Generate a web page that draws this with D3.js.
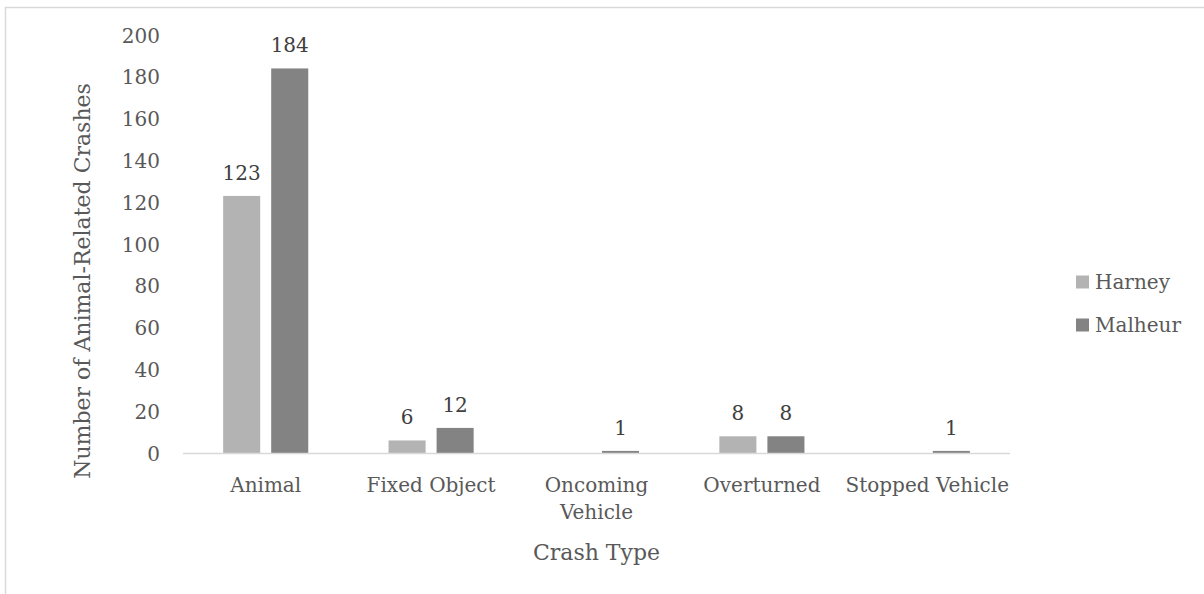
<!DOCTYPE html>
<html>
<head>
<meta charset="utf-8">
<script src="https://cdn.jsdelivr.net/npm/d3@7"></script>
<style>
  html, body { margin: 0; padding: 0; background: #fff; overflow: hidden; }
  svg { display: block; }
  text { font-family: "DejaVu Serif", serif; fill: #595959; }
</style>
</head>
<body>
<svg id="chart" width="1204" height="594"></svg>
<script>
// Crash types by county
const categories = ["Animal", "Fixed Object", "Oncoming Vehicle", "Overturned", "Stopped Vehicle"];
const categoryLines = [["Animal"], ["Fixed Object"], ["Oncoming", "Vehicle"], ["Overturned"], ["Stopped Vehicle"]];
const seriesNames = ["Harney", "Malheur"];
const harney = [123, 6, null, 8, null];
const malheur = [184, 12, 1, 8, 1];
const yTicks = [0, 20, 40, 60, 80, 100, 120, 140, 160, 180, 200];
const seriesColors = ["#b3b3b3", "#838383"];

const series = [harney, malheur];

const svg = d3.select("#chart");
const W = 1204, H = 594;
const labelSize = 20;
const titleSize = 22;

// outer chart frame
svg.append("rect")
  .attr("x", 5.5).attr("y", 7.5)
  .attr("width", W + 10).attr("height", H + 10)
  .attr("fill", "none").attr("stroke", "#d9d9d9").attr("stroke-width", 1.5);

const plot = { left: 183, right: 1010, top: 35, bottom: 453 };

const x = d3.scaleBand().domain(categories).range([plot.left, plot.right]).paddingInner(0).paddingOuter(0);
const y = d3.scaleLinear().domain([0, 200]).range([plot.bottom, plot.top]);

const barW = x.bandwidth() * 0.224;
const gap = 11;

// y-axis tick labels (no axis line)
const yAxis = d3.axisLeft(y).tickValues(yTicks).tickSize(0).tickPadding(0);
const yg = svg.append("g").attr("transform", `translate(${160},0)`).call(yAxis);
yg.select(".domain").remove();
yg.selectAll("text")
  .attr("font-family", "DejaVu Serif, serif")
  .attr("font-size", labelSize)
  .attr("fill", "#595959")
  .attr("dy", "0.35em");

// bars with value labels
series.forEach((vals, si) => {
  const offset = si === 0 ? -gap / 2 - barW : gap / 2;
  const g = svg.append("g");
  categories.forEach((c, ci) => {
    const v = vals[ci];
    if (v == null) return;
    const cx = x(c) + x.bandwidth() / 2;
    g.append("rect")
      .attr("x", cx + offset)
      .attr("y", y(v))
      .attr("width", barW)
      .attr("height", y(0) - y(v))
      .attr("fill", seriesColors[si]);
    g.append("text")
      .attr("x", cx + offset + barW / 2)
      .attr("y", y(v) - 16)
      .attr("text-anchor", "middle")
      .attr("font-size", labelSize)
      .style("fill", "#404040")
      .text(v);
  });
});

// category axis line
svg.append("line")
  .attr("x1", plot.left).attr("x2", plot.right)
  .attr("y1", plot.bottom + 0.5).attr("y2", plot.bottom + 0.5)
  .attr("stroke", "#d9d9d9").attr("stroke-width", 1.5);

// category labels
categories.forEach((c, ci) => {
  const t = svg.append("text")
    .attr("x", x(c) + x.bandwidth() / 2)
    .attr("y", 492)
    .attr("text-anchor", "middle")
    .attr("font-size", labelSize);
  categoryLines[ci].forEach((line, li) => {
    t.append("tspan")
      .attr("x", x(c) + x.bandwidth() / 2)
      .attr("dy", li === 0 ? 0 : 27)
      .text(line);
  });
});

// axis titles
svg.append("text")
  .attr("x", (plot.left + plot.right) / 2)
  .attr("y", 560)
  .attr("text-anchor", "middle")
  .attr("font-size", titleSize)
  .text("Crash Type");

svg.append("text")
  .attr("transform", `translate(90, ${(plot.top + plot.bottom) / 2 + 37}) rotate(-90)`)
  .attr("text-anchor", "middle")
  .attr("font-size", titleSize)
  .text("Number of Animal-Related Crashes");

// legend
const legend = svg.append("g");
seriesNames.forEach((name, i) => {
  const cy = 282 + i * 43;
  legend.append("rect")
    .attr("x", 1076).attr("y", cy - 6.5)
    .attr("width", 13).attr("height", 13)
    .attr("fill", seriesColors[i]);
  legend.append("text")
    .attr("x", 1095).attr("y", cy)
    .attr("dy", "0.35em")
    .attr("font-size", labelSize)
    .text(name);
});
</script>
</body>
</html>
